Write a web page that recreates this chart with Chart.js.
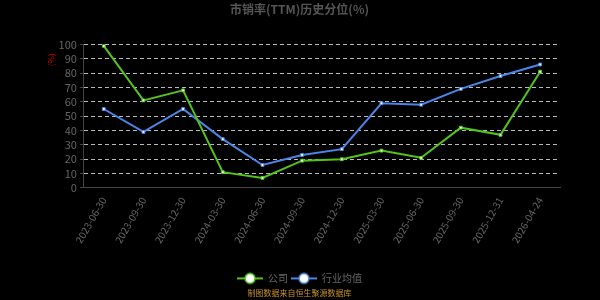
<!DOCTYPE html>
<html>
<head>
<meta charset="utf-8">
<script src="https://cdn.jsdelivr.net/npm/chart.js@4/dist/chart.umd.min.js"></script>
<style>
  html, body { margin: 0; padding: 0; background: #000; }
  #box { width: 600px; height: 300px; }
</style>
</head>
<body>
<div id="box"><canvas id="grafico"></canvas></div>
<script>
const fechas = ["2023-06-30", "2023-09-30", "2023-12-30", "2024-03-30", "2024-06-30", "2024-09-30",
  "2024-12-30", "2025-03-30", "2025-06-30", "2025-09-30", "2025-12-31", "2026-04-24"];
const empresa = [99, 61, 68, 11, 7, 19, 20, 26, 21, 42, 37, 81];
const industria = [55, 39, 55, 34, 16, 23, 27, 59, 58, 69, 78, 86];
const yTicks = [0, 10, 20, 30, 40, 50, 60, 70, 80, 90, 100];

const verde = "#52c41a";
const azul = "#4a86e8";
const gris = "#666";

// little legend icon: line with a hollow circle in the middle
const icono = (color) => {
  let c = document.createElement("canvas");
  c.width = 26;
  c.height = 14;
  let ctx = c.getContext("2d");
  ctx.strokeStyle = color;
  ctx.lineWidth = 2;
  ctx.beginPath();
  ctx.moveTo(0, 7);
  ctx.lineTo(26, 7);
  ctx.stroke();
  ctx.fillStyle = "#fff";
  ctx.beginPath();
  ctx.arc(13, 7, 5, 0, Math.PI * 2);
  ctx.fill();
  ctx.lineWidth = 1.5;
  ctx.stroke();
  return c;
};

const fuente = "'Noto Sans CJK SC', 'Noto Sans', sans-serif";

new Chart(document.getElementById("grafico"), {
  type: "line",
  data: {
    labels: fechas,
    datasets: [
      {
        label: "公司",
        data: empresa,
        borderColor: verde,
        backgroundColor: "#fff",
        borderWidth: 2,
        pointRadius: 2,
        pointBorderWidth: 1,
        pointBorderColor: verde,
        pointStyle: "rect",
        tension: 0,
      },
      {
        label: "行业均值",
        data: industria,
        borderColor: azul,
        backgroundColor: "#fff",
        borderWidth: 2,
        pointRadius: 2,
        pointBorderWidth: 1,
        pointBorderColor: azul,
        pointStyle: "rect",
        tension: 0,
      },
    ],
  },
  options: {
    responsive: true,
    maintainAspectRatio: false,
    animation: false,
    layout: { padding: { left: 39, right: 40, top: 0, bottom: 0 } },
    plugins: {
      title: {
        display: true,
        text: "市销率(TTM)历史分位(%)",
        color: "#555",
        font: { family: fuente, size: 12, weight: "bold" },
        padding: { top: 2, bottom: 28 },
      },
      subtitle: {
        display: true,
        position: "bottom",
        text: "制图数据来自恒生聚源数据库",
        color: "#c8922a",
        font: { family: fuente, size: 8 },
        padding: { top: -5, bottom: 2 },
      },
      legend: {
        position: "bottom",
        labels: {
          color: gris,
          font: { family: fuente, size: 10 },
          usePointStyle: true,
          pointStyleWidth: 26,
          boxHeight: 14,
          padding: 3,
          generateLabels: (chart) =>
            chart.data.datasets.map((ds, i) => ({
              text: ds.label,
              fontColor: gris,
              pointStyle: icono(ds.borderColor),
              datasetIndex: i,
              lineWidth: 0,
              strokeStyle: "transparent",
              fillStyle: "transparent",
            })),
        },
      },
      tooltip: { enabled: false },
    },
    scales: {
      x: {
        offset: true,
        afterFit: (axis) => {
          axis.height += 22;
        },
        grid: { display: false, drawTicks: true, tickLength: 4, tickColor: "#444" },
        border: { color: "#444" },
        ticks: {
          color: gris,
          font: { family: fuente, size: 10 },
          maxRotation: 60,
          minRotation: 60,
          autoSkip: false,
        },
      },
      y: {
        min: 0,
        max: 100,
        afterBuildTicks: (axis) => {
          axis.ticks = yTicks.map((v) => ({ value: v }));
        },
        grid: {
          color: "#bbb",
          lineWidth: 1,
          drawTicks: true,
          tickLength: 4,
          tickColor: "#444",
        },
        border: { color: "#444", dash: [4, 3] },
        ticks: { color: gris, font: { family: fuente, size: 11 }, padding: 3, autoSkip: false },
        title: {
          display: true,
          text: "(%)     ",
          align: "end",
          color: "#c00",
          font: { family: fuente, size: 8 },
          padding: { top: 7, bottom: 0 },
        },
      },
    },
  },
});
</script>
</body>
</html>
